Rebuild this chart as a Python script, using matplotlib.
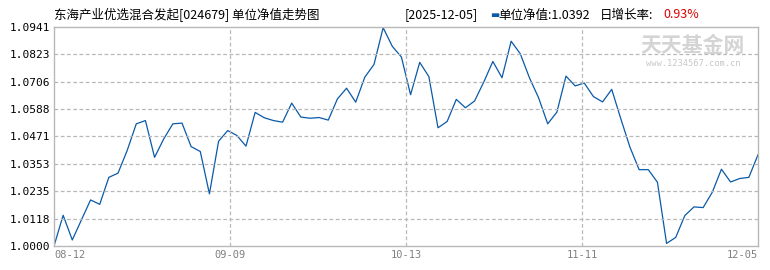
import numpy as np
import matplotlib
matplotlib.use("Agg")
import matplotlib.pyplot as plt

plt.rcParams['font.family'] = ['Noto Sans CJK SC', 'DejaVu Sans']

# ── data (unit NAV) ───────────────────────────────────────────────────────────
nav = [
    1.0000, 1.0132, 1.0026, 1.0112, 1.0198, 1.0179, 1.0295, 1.0313, 1.0410, 1.0525,
    1.0539, 1.0381, 1.0460, 1.0525, 1.0528, 1.0427, 1.0406, 1.0224, 1.0450, 1.0496,
    1.0475, 1.0429, 1.0574, 1.0551, 1.0539, 1.0532, 1.0614, 1.0554, 1.0549, 1.0552,
    1.0541, 1.0632, 1.0678, 1.0618, 1.0726, 1.0780, 1.0938, 1.0858, 1.0812, 1.0650,
    1.0789, 1.0728, 1.0508, 1.0535, 1.0630, 1.0594, 1.0623, 1.0704, 1.0793, 1.0723,
    1.0880, 1.0826, 1.0723, 1.0637, 1.0525, 1.0575, 1.0730, 1.0688, 1.0700, 1.0642,
    1.0619, 1.0673, 1.0546, 1.0424, 1.0328, 1.0328, 1.0274, 1.0011, 1.0037, 1.0131,
    1.0168, 1.0165, 1.0231, 1.0330, 1.0275, 1.0290, 1.0295, 1.0392,
]
y_ticks   = [1.0000, 1.0118, 1.0235, 1.0353, 1.0471, 1.0588, 1.0706, 1.0823, 1.0941]
x_labels  = ["08-12", "09-09", "10-13", "11-11", "12-05"]

W, H = 770, 270
fig = plt.figure(figsize=(W / 100, H / 100), dpi=100)
ax = fig.add_axes([54 / W, 1 - 246 / H, (758 - 54) / W, (246 - 27) / H])

n = len(nav)
xs = np.arange(n)
ax.plot(xs, nav, color="#0a5aa8", lw=0.9)

ax.set_xlim(0, n - 1)
ax.set_ylim(y_ticks[0], y_ticks[-1])

# ── axes styling ──────────────────────────────────────────────────────────────
grid_c = "#b8b8b8"
for s in ax.spines.values():
    s.set_color(grid_c)
    s.set_linewidth(1.0)

ax.set_yticks(y_ticks)
ax.set_yticklabels([f"{v:.4f}" for v in y_ticks], family="DejaVu Sans Mono",
                   fontsize=8, color="black")
for v in y_ticks[1:-1]:
    ax.axhline(v, color=grid_c, ls=(0, (3, 2)), lw=0.9)

xt = [(n - 1) * k / 4 for k in range(5)]
ax.set_xticks(xt)
ax.set_xticklabels(x_labels, family="DejaVu Sans Mono", fontsize=7.5, color="#808080")
for lbl, ha in zip(ax.get_xticklabels(), ["left", "center", "center", "center", "right"]):
    lbl.set_ha(ha)
for v in xt[1:-1]:
    ax.axvline(v, color=grid_c, ls=(0, (3, 2)), lw=0.9)
ax.tick_params(axis="both", length=0, pad=3)

# ── watermark ────────────────────────────────────────────────────────────────
fig.text(693 / W, 1 - 46 / H, "天天基金网", fontsize=15, fontweight="bold",
         color="#d4d4d4", ha="center", va="center")
fig.text(693 / W, 1 - 63 / H, "www.1234567.com.cn", family="DejaVu Sans Mono",
         fontsize=6.3, color="#c8c8c8", ha="center", va="center")

# ── header texts ─────────────────────────────────────────────────────────────
ty = 1 - 15 / H
fig.text(54 / W, ty, "东海产业优选混合发起[024679] 单位净值走势图",
         fontsize=9, color="black", va="center")
fig.text(405 / W, ty, "[2025-12-05]", fontsize=9, color="black", va="center")
fig.text(490 / W, ty, "▬", fontsize=7, color="#0a5aa8", va="center",
         family=["DejaVu Sans"])
fig.text(498 / W, ty, "单位净值:1.0392", fontsize=9, color="black", va="center")
fig.text(600 / W, ty, "日增长率:", fontsize=9, color="black", va="center")
fig.text(663 / W, ty, "0.93%", fontsize=9, color="#dd0000", va="center")

fig.savefig("out.png", dpi=100)
